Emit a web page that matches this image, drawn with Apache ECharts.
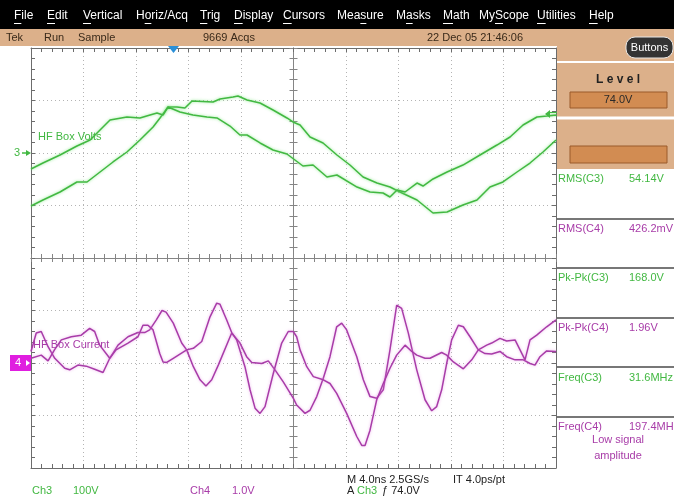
<!DOCTYPE html>
<html>
<head>
<meta charset="utf-8">
<script src="https://cdn.jsdelivr.net/npm/echarts@6/dist/echarts.min.js"></script>
<style>
  html, body { margin: 0; padding: 0; background: #fff; }
  #scope { width: 674px; height: 498px; }
</style>
</head>
<body>
<div id="scope"></div>
<script>
// ---- Acquired waveforms: [time since left edge (ns), volts] ----
// Ch3 "HF Box Volts", 100 V/div
const ch3TraceA = [[0,-101],[0.91,-89.5],[2.21,-74.3],[3.5,-55.2],[4.27,-55.2],[5.26,-36.2],[6.25,-17.1],[7.31,1.9],[8.3,24.8],[9.3,49.5],[9.83,66.7],[10.44,87.6],[11.12,87.6],[11.73,85.7],[12.27,99.1],[13.87,97.2],[14.4,102.9],[15.39,106.7],[15.77,108.6],[16.46,101],[17.45,95.3],[18.44,81.9],[19.5,66.7],[19.96,59.1],[20.5,53.3],[21.26,30.5],[22.25,19.1],[23.31,-3.8],[24.3,-22.9],[25.3,-45.7],[26.36,-57.2],[27.35,-64.8],[28.11,-74.3],[29.41,-89.5],[30.63,-114.3],[31.7,-112.4],[32.91,-99.1],[33.98,-89.5],[34.97,-64.8],[35.96,-55.2],[37.03,-36.2],[38.02,-19.1],[39.01,1.9],[40,24.8]];
const ch3TraceB = [[0,-30.5],[0.91,-19.1],[2.21,-3.8],[3.5,13.3],[4.5,24.8],[5.26,43.8],[6.02,62.9],[7.31,68.6],[8.3,66.7],[9.07,72.4],[9.6,76.2],[10.06,72.4],[10.44,87.6],[11.35,78.1],[12.34,72.4],[13.41,68.6],[14.17,66.7],[15.16,51.4],[15.92,34.3],[16.46,34.3],[17.45,19.1],[18.44,5.7],[19.5,-1.9],[20.11,-13.3],[20.72,-24.8],[21.49,-22.9],[22.55,-45.7],[23.31,-41.9],[24.84,-64.8],[25.83,-74.3],[26.82,-76.2],[27.35,-83.8],[27.89,-70.5],[28.5,-74.3],[29.41,-57.2],[29.87,-62.9],[30.63,-49.5],[31.7,-36.2],[32.91,-22.9],[34.21,-3.8],[35.5,15.2],[36.5,30.5],[37.49,53.3],[38.55,68.6],[39.31,70.5],[40,72.4]];
// Ch4 "HF Box Current", 1 V/div
const ch4TraceA = [[0,0.22],[0.4,0.57],[0.78,0.6],[1.3,0.31],[1.81,0.09],[2.57,-0.1],[2.95,-0.13],[3.58,-0.04],[4.21,-0.06],[4.85,-0.12],[5.49,-0.18],[6,0.09],[6.63,0.34],[7.39,0.5],[8.15,0.58],[8.66,0.58],[9.04,0.63],[9.55,0.82],[9.98,1],[10.29,0.97],[10.84,0.76],[11.48,0.38],[11.86,0.25],[12.37,-0.07],[12.88,-0.32],[13.33,-0.44],[13.77,-0.32],[14.27,-0.04],[15.29,0.57],[15.92,0.38],[16.43,0.12],[16.82,0.01],[17.58,-0.01],[18.08,0.04],[18.59,-0.13],[19.22,-0.36],[19.98,-0.67],[20.24,-0.8],[20.88,-0.96],[21.26,-0.9],[21.77,-0.64],[22.27,-0.29],[22.78,0.12],[23.29,0.69],[23.67,0.76],[24.05,0.63],[24.82,0.12],[25.32,-0.32],[25.83,-0.64],[26.34,-0.67],[26.84,-0.51],[27.35,0.25],[27.86,1.1],[28.24,1.04],[28.75,0.57],[29.39,-0.13],[30.02,-0.7],[30.53,-0.91],[30.91,-0.83],[31.29,-0.51],[31.67,-0.01],[32.05,0.44],[32.56,0.72],[32.94,0.69],[33.45,0.5],[34.08,0.25],[34.59,0.18],[35.1,0.17],[35.73,0.22],[36.24,0.12],[36.88,0.06],[37.51,0.06],[38.02,-0.01],[38.4,-0.04],[38.78,0.12],[39.29,0.23],[40,0.22]];
const ch4TraceB = [[0,0.09],[0.78,0.15],[1.3,0.04],[1.81,0.26],[2.31,0.44],[3.07,0.5],[3.83,0.53],[4.47,0.66],[4.85,0.6],[5.23,0.34],[6,0.09],[6.48,0.25],[7.39,0.38],[8.15,0.5],[8.53,0.72],[8.91,0.72],[9.3,0.63],[9.81,0.18],[10.06,0.02],[10.34,0.01],[10.84,0.09],[11.35,0.17],[11.86,0.25],[12.37,0.28],[13.01,0.41],[13.64,0.88],[14.15,1.14],[14.4,1.12],[14.91,0.82],[15.29,0.58],[15.67,0.44],[16.3,-0.07],[16.69,-0.51],[17.07,-0.86],[17.45,-0.96],[17.83,-0.83],[18.46,-0.2],[19.1,0.38],[19.6,0.6],[19.98,0.6],[20.24,0.5],[20.5,0.25],[21.01,-0.07],[21.51,-0.26],[22.27,-0.32],[22.78,-0.39],[23.29,-0.58],[24.05,-0.96],[24.82,-1.4],[25.2,-1.57],[25.45,-1.57],[25.83,-1.28],[26.34,-0.7],[26.84,-0.39],[27.35,-0.1],[27.86,0.15],[28.5,0.34],[29.01,0.22],[29.39,0.15],[30.02,0.09],[30.4,0.09],[31.29,0.2],[31.67,0.15],[32.18,0.02],[32.94,-0.11],[33.58,0.06],[34.08,0.25],[34.72,0.34],[35.1,0.38],[35.73,0.47],[36.24,0.42],[36.88,0.44],[37.26,0.25],[37.64,0.06],[38.02,0.44],[38.53,0.53],[39.29,0.69],[40,0.82]];

// ---- Scale settings ----
const timeRange = [0, 40];        // 4 ns/div x 10 div
const ch3Range = [-600, 200];     // 100 V/div, ref marker 2 div above centre
const ch4Range = [-2, 6];         // 1 V/div, ref marker 2 div below centre

// ---- Texts ----
const menuItems = ['File','Edit','Vertical','Horiz/Acq','Trig','Display','Cursors','Measure','Masks','Math','MyScope','Utilities','Help'];
const menuHotkey = [0, 0, 0, 1, 0, 0, 0, 3, 1, 0, 2, 0, 0];   // underlined letter index
const statusItems = ['Tek','Run','Sample','9669 Acqs','22 Dec 05 21:46:06'];
const measureLabels = ['RMS(C3)','RMS(C4)','Pk-Pk(C3)','Pk-Pk(C4)','Freq(C3)','Freq(C4)'];
const measureValues = ['54.14V','426.2mV','168.0V','1.96V','31.6MHz','197.4MHz'];
const measureChannel = [3,4,3,4,3,4];
const triggerLevel = '74.0V';

const GREEN = '#42b842', MAGENTA = '#a83ca8';
const TAN = '#dcb08a', FONT = "'Liberation Sans', Arial, sans-serif";
const GRID = { left: 31, top: 48, width: 525, height: 420 };

const borderStyle = { color: '#6c6c6c', width: 1 };
const centreStyle = { color: '#858585', width: 1 };

function frameAxis(extra, style, inside) {
  return Object.assign({
    type: 'value', axisLabel: { show: false },
    axisLine: { show: true, onZero: false, lineStyle: style },
    axisTick: { show: true, inside: inside, length: 4, lineStyle: style },
    minorTick: { show: true, splitNumber: 5, length: 4, lineStyle: style },
    splitLine: { show: false }
  }, extra);
}
const dotted = { show: true, lineStyle: { type: [1, 3], color: '#b4b4b4', width: 1 } };

const xAxes = [
  frameAxis({ min: timeRange[0], max: timeRange[1], interval: 4, position: 'bottom', splitLine: dotted }, borderStyle, true),
  frameAxis({ min: timeRange[0], max: timeRange[1], interval: 4, position: 'top' }, borderStyle, true),
  frameAxis({ min: timeRange[0], max: timeRange[1], interval: 4, position: 'bottom' }, centreStyle, true),
  frameAxis({ min: timeRange[0], max: timeRange[1], interval: 4, position: 'bottom' }, centreStyle, false),
  { type: 'value', min: -5, max: 5, show: false }
];
xAxes[2].axisLine.onZero = true; xAxes[2].axisLine.onZeroAxisIndex = 0;
xAxes[3].axisLine.onZero = true; xAxes[3].axisLine.onZeroAxisIndex = 0;

const yAxes = [
  frameAxis({ min: -4, max: 4, interval: 1, position: 'left', splitLine: dotted }, borderStyle, true),
  frameAxis({ min: -4, max: 4, interval: 1, position: 'right' }, borderStyle, true),
  frameAxis({ min: -4, max: 4, interval: 1, position: 'left' }, centreStyle, true),
  frameAxis({ min: -4, max: 4, interval: 1, position: 'left' }, centreStyle, false),
  { type: 'value', min: ch3Range[0], max: ch3Range[1], show: false, axisLine: { onZero: false } },
  { type: 'value', min: ch4Range[0], max: ch4Range[1], show: false, axisLine: { onZero: false } }
];
yAxes[2].axisLine.onZero = true; yAxes[2].axisLine.onZeroAxisIndex = 4;
yAxes[3].axisLine.onZero = true; yAxes[3].axisLine.onZeroAxisIndex = 4;

function trace(data, yIndex, color, glow) {
  return {
    type: 'line', data: data, xAxisIndex: 0, yAxisIndex: yIndex,
    showSymbol: false, smooth: false, silent: true, z: 5,
    lineStyle: { color: color, width: 1.5, shadowColor: glow, shadowBlur: 3 }
  };
}

// ---- Screen furniture ----
function txt(x, y, s, fill, size, align, weight) {
  return {
    type: 'text', x: x, y: y, z: 20,
    style: { text: s, fill: fill, font: (weight ? weight + ' ' : '') + (size || 11) + 'px ' + FONT,
      align: align || 'left', verticalAlign: 'middle', textAlign: align || 'left', textVerticalAlign: 'middle' }
  };
}
function rect(x, y, w, h, fill, stroke, z) {
  return { type: 'rect', z: z || 10, shape: { x: x, y: y, width: w, height: h },
    style: { fill: fill, stroke: stroke || null, lineWidth: 1 } };
}
function hline(x1, x2, y, color, width) {
  return { type: 'line', z: 15, shape: { x1: x1, y1: y, x2: x2, y2: y }, style: { stroke: color, lineWidth: width || 1 } };
}

const measureCtx = document.createElement('canvas').getContext('2d');
const g = [];
// menu bar with underlined hotkeys
g.push(rect(0, 0, 674, 29, '#000'));
const menuX = [14, 47, 83, 136, 200, 234, 283, 337, 396, 443, 479, 537, 589];
measureCtx.font = '12px ' + FONT;
menuItems.forEach((m, i) => {
  g.push(txt(menuX[i], 16, m, '#fff', 12));
  const k = menuHotkey[i];
  const x0 = menuX[i] + measureCtx.measureText(m.slice(0, k)).width;
  const w = measureCtx.measureText(m.charAt(k)).width;
  g.push(hline(x0, x0 + w, 23.5, '#fff', 1));
});
// status bar
g.push(rect(0, 29, 674, 17, TAN));
const statusX = [6, 44, 78, 203, 427];
statusItems.forEach((s, i) => g.push(txt(statusX[i], 38, s, '#3a2a1a', 11)));
// right-hand panel
g.push(rect(557, 46, 117, 123, TAN));
g.push(hline(557, 674, 62, '#fff', 2));
g.push(hline(557, 674, 118, '#fff', 3));
g.push({ type: 'rect', z: 16, shape: { x: 626, y: 37, width: 47, height: 21, r: 9 },
  style: { fill: '#333', stroke: '#e8e8e8', lineWidth: 1 } });
g.push(txt(649.5, 47.5, 'Buttons', '#fff', 11, 'center'));
g.push(txt(618, 80, 'L e v e l', '#222', 12, 'center', 'bold'));
g.push(rect(570, 92, 97, 16, '#d28c52', '#9a5a2a'));
g.push(txt(618, 100, triggerLevel, '#2a2a2a', 11, 'center'));
g.push(rect(570, 146, 97, 17, '#d28c52', '#9a5a2a'));
// measurement readouts
const rowY = [179, 229, 278, 328, 378, 427];
[219, 268, 318, 367, 417].forEach(y => g.push(hline(557, 674, y, '#4a4a4a', 1.5)));
measureLabels.forEach((lab, i) => {
  const c = measureChannel[i] === 3 ? GREEN : MAGENTA;
  g.push(txt(558, rowY[i], lab, c, 11));
  g.push(txt(629, rowY[i], measureValues[i], c, 11));
});
g.push(txt(618, 440, 'Low signal', MAGENTA, 11, 'center'));
g.push(txt(618, 456, 'amplitude', MAGENTA, 11, 'center'));
// channel / timebase readouts
g.push(txt(32, 491, 'Ch3', GREEN, 11));
g.push(txt(73, 491, '100V', GREEN, 11));
g.push(txt(190, 491, 'Ch4', MAGENTA, 11));
g.push(txt(232, 491, '1.0V', MAGENTA, 11));
g.push(txt(347, 480, 'M 4.0ns 2.5GS/s', '#222', 11));
g.push(txt(453, 480, 'IT 4.0ps/pt', '#222', 11));
g.push(txt(347, 491, 'A', '#222', 11));
g.push(txt(357, 491, 'Ch3', GREEN, 11));
g.push(txt(382, 491, 'ƒ 74.0V', '#222', 11));
// trace labels
g.push(txt(38, 137, 'HF Box Volts', GREEN, 11));
g.push(txt(33, 345, 'HF Box Current', MAGENTA, 11));
// ground reference markers
g.push(txt(14, 153, '3', GREEN, 11));
g.push(hline(22, 29, 153, GREEN, 1.5));
g.push({ type: 'polygon', z: 20, shape: { points: [[26, 150], [31, 153], [26, 156]] }, style: { fill: GREEN } });
g.push(rect(10, 355, 21, 16, '#e01ee0', null, 18));
g.push(txt(15, 363, '4', '#fff', 11));
g.push(hline(22, 28, 363, '#fff', 1.5));
g.push({ type: 'polygon', z: 20, shape: { points: [[26, 360], [30, 363], [26, 366]] }, style: { fill: '#fff' } });
// trigger position and level markers
g.push({ type: 'polygon', z: 20, shape: { points: [[168, 46], [179, 46], [173.5, 53]] }, style: { fill: '#2a8fd8' } });
g.push({ type: 'polygon', z: 20, shape: { points: [[545, 114], [550, 110], [550, 118]] }, style: { fill: GREEN } });
g.push(hline(549, 557, 112.5, GREEN, 1.2));
g.push(hline(549, 557, 115.5, GREEN, 1.2));

const chart = echarts.init(document.getElementById('scope'), null, { renderer: 'canvas' });
chart.setOption({
  animation: false,
  backgroundColor: '#fff',
  grid: Object.assign({ containLabel: false, show: false }, GRID),
  xAxis: xAxes,
  yAxis: yAxes,
  series: [
    trace(ch3TraceA, 4, GREEN, 'rgba(120,230,120,0.8)'),
    trace(ch3TraceB, 4, GREEN, 'rgba(120,230,120,0.8)'),
    trace(ch4TraceA, 5, MAGENTA, 'rgba(225,130,225,0.6)'),
    trace(ch4TraceB, 5, MAGENTA, 'rgba(225,130,225,0.6)')
  ],
  graphic: { elements: g }
});
</script>
</body>
</html>
